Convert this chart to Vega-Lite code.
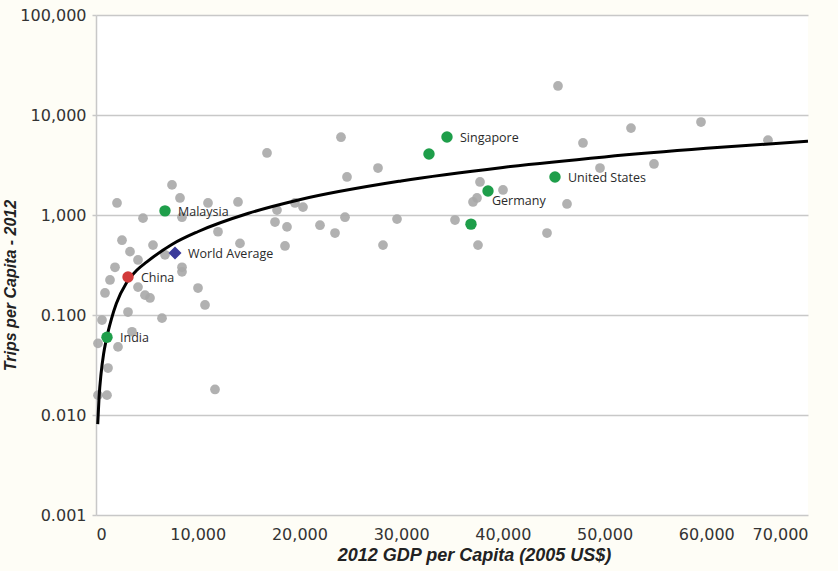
{
  "$schema": "https://vega.github.io/schema/vega-lite/v6.json",
  "autosize": "none",
  "width": 712,
  "height": 500,
  "padding": {"left": 96, "top": 15, "right": 30, "bottom": 56},
  "background": "#fefdf6",
  "config": {
    "view": {"stroke": null, "fill": "#ffffff"}
  },
  "datasets": {
    "countries": [
      {"gdp": 2065, "trips": 1.32, "group": "other"},
      {"gdp": 7472, "trips": 2.0, "group": "other"},
      {"gdp": 8258, "trips": 1.48, "group": "other"},
      {"gdp": 4621, "trips": 0.93, "group": "other"},
      {"gdp": 8455, "trips": 0.95, "group": "other"},
      {"gdp": 11994, "trips": 0.68, "group": "other"},
      {"gdp": 13960, "trips": 1.35, "group": "other"},
      {"gdp": 2556, "trips": 0.56, "group": "other"},
      {"gdp": 5604, "trips": 0.5, "group": "other"},
      {"gdp": 3343, "trips": 0.43, "group": "other"},
      {"gdp": 4129, "trips": 0.355, "group": "other"},
      {"gdp": 6783, "trips": 0.4, "group": "other"},
      {"gdp": 1868, "trips": 0.3, "group": "other"},
      {"gdp": 8455, "trips": 0.3, "group": "other"},
      {"gdp": 1376, "trips": 0.224, "group": "other"},
      {"gdp": 10028, "trips": 0.186, "group": "other"},
      {"gdp": 885, "trips": 0.166, "group": "other"},
      {"gdp": 4129, "trips": 0.19, "group": "other"},
      {"gdp": 4817, "trips": 0.158, "group": "other"},
      {"gdp": 5309, "trips": 0.148, "group": "other"},
      {"gdp": 10716, "trips": 0.126, "group": "other"},
      {"gdp": 3146, "trips": 0.107, "group": "other"},
      {"gdp": 6489, "trips": 0.093, "group": "other"},
      {"gdp": 590, "trips": 0.089, "group": "other"},
      {"gdp": 3539, "trips": 0.068, "group": "other"},
      {"gdp": 197, "trips": 0.052, "group": "other"},
      {"gdp": 2163, "trips": 0.048, "group": "other"},
      {"gdp": 1180, "trips": 0.0295, "group": "other"},
      {"gdp": 197, "trips": 0.0158, "group": "other"},
      {"gdp": 1081, "trips": 0.0158, "group": "other"},
      {"gdp": 11699, "trips": 0.018, "group": "other"},
      {"gdp": 16811, "trips": 4.17, "group": "other"},
      {"gdp": 24086, "trips": 6.0, "group": "other"},
      {"gdp": 24676, "trips": 2.4, "group": "other"},
      {"gdp": 27724, "trips": 2.95, "group": "other"},
      {"gdp": 11011, "trips": 1.32, "group": "other"},
      {"gdp": 17794, "trips": 1.12, "group": "other"},
      {"gdp": 17598, "trips": 0.85, "group": "other"},
      {"gdp": 18777, "trips": 0.76, "group": "other"},
      {"gdp": 19564, "trips": 1.32, "group": "other"},
      {"gdp": 20351, "trips": 1.2, "group": "other"},
      {"gdp": 22022, "trips": 0.79, "group": "other"},
      {"gdp": 23497, "trips": 0.66, "group": "other"},
      {"gdp": 24480, "trips": 0.95, "group": "other"},
      {"gdp": 14157, "trips": 0.52, "group": "other"},
      {"gdp": 18581, "trips": 0.49, "group": "other"},
      {"gdp": 29593, "trips": 0.91, "group": "other"},
      {"gdp": 35295, "trips": 0.89, "group": "other"},
      {"gdp": 28216, "trips": 0.5, "group": "other"},
      {"gdp": 37556, "trips": 0.5, "group": "other"},
      {"gdp": 44340, "trips": 0.66, "group": "other"},
      {"gdp": 37753, "trips": 2.14, "group": "other"},
      {"gdp": 40014, "trips": 1.78, "group": "other"},
      {"gdp": 37458, "trips": 1.48, "group": "other"},
      {"gdp": 37065, "trips": 1.35, "group": "other"},
      {"gdp": 46306, "trips": 1.29, "group": "other"},
      {"gdp": 45420, "trips": 19.5, "group": "other"},
      {"gdp": 52597, "trips": 7.4, "group": "other"},
      {"gdp": 59479, "trips": 8.5, "group": "other"},
      {"gdp": 47877, "trips": 5.25, "group": "other"},
      {"gdp": 49549, "trips": 2.95, "group": "other"},
      {"gdp": 54858, "trips": 3.24, "group": "other"},
      {"gdp": 66066, "trips": 5.6, "group": "other"},
      {"gdp": 8455, "trips": 0.27, "group": "other"},
      {"gdp": 6783, "trips": 1.1, "group": "highlight", "name": "Malaysia"},
      {"gdp": 1081, "trips": 0.06, "group": "highlight", "name": "India"},
      {"gdp": 34507, "trips": 6.03, "group": "highlight", "name": "Singapore"},
      {"gdp": 32737, "trips": 4.07, "group": "highlight"},
      {"gdp": 38539, "trips": 1.74, "group": "highlight", "name": "Germany"},
      {"gdp": 36866, "trips": 0.81, "group": "highlight"},
      {"gdp": 45125, "trips": 2.4, "group": "highlight", "name": "United States"},
      {"gdp": 3146, "trips": 0.24, "group": "china", "name": "China"},
      {"gdp": 7767, "trips": 0.417, "group": "world", "name": "World Average"}
    ],
    "trend": [
      {"gdp": 170, "trips": 0.0081},
      {"gdp": 300, "trips": 0.015},
      {"gdp": 500, "trips": 0.026},
      {"gdp": 750, "trips": 0.041},
      {"gdp": 1000, "trips": 0.056},
      {"gdp": 1500, "trips": 0.09},
      {"gdp": 2000, "trips": 0.13},
      {"gdp": 3000, "trips": 0.21},
      {"gdp": 4000, "trips": 0.28},
      {"gdp": 5000, "trips": 0.34},
      {"gdp": 7500, "trips": 0.51},
      {"gdp": 10000, "trips": 0.68},
      {"gdp": 15000, "trips": 1.04},
      {"gdp": 20000, "trips": 1.42},
      {"gdp": 30000, "trips": 2.19},
      {"gdp": 40000, "trips": 2.99},
      {"gdp": 50000, "trips": 3.81},
      {"gdp": 60000, "trips": 4.64},
      {"gdp": 70000, "trips": 5.48}
    ]
  },
  "encoding": {
    "x": {
      "field": "gdp", "type": "quantitative",
      "scale": {"domain": [0, 70000], "nice": false, "zero": true},
      "axis": {
        "title": "2012 GDP per Capita (2005 US$)",
        "values": [0, 10000, 20000, 30000, 40000, 50000, 60000, 70000],
        "format": ",d",
        "grid": false, "domain": false, "ticks": false,
        "labelFont": "DejaVu Sans", "labelFontSize": 16, "labelColor": "#333333",
        "labelPadding": 11,
        "titleFont": "Liberation Sans", "titleFontSize": 18, "titleFontWeight": "bold", "titleFontStyle": "italic", "titleColor": "#222222",
        "titlePadding": 4, "titleX": 378, "titleAlign": "center"
      }
    },
    "y": {
      "field": "trips", "type": "quantitative",
      "scale": {"type": "log", "domain": [0.001, 100], "nice": false},
      "axis": {
        "title": "Trips per Capita - 2012",
        "values": [0.001, 0.01, 0.1, 1, 10, 100],
        "labelExpr": "datum.value < 0.005 ? '0.001' : datum.value < 0.05 ? '0.010' : datum.value < 0.5 ? '0.100' : datum.value < 5 ? '1,000' : datum.value < 50 ? '10,000' : '100,000'",
        "labelFont": "DejaVu Sans", "labelFontSize": 16, "labelColor": "#333333",
        "grid": true, "gridColor": "#c8c8c8", "gridWidth": 1.5,
        "domain": true, "domainColor": "#c8c8c8", "domainWidth": 1.5,
        "ticks": true, "tickColor": "#c8c8c8", "tickSize": 4, "tickWidth": 1.5,
        "labelPadding": 6,
        "titleFont": "Liberation Sans Narrow, Liberation Sans", "titleFontSize": 16, "titleFontWeight": "bold", "titleFontStyle": "italic", "titleColor": "#222222",
        "titleX": -78, "titleY": 270
      }
    }
  },
  "layer": [
    {
      "data": {"name": "countries"},
      "transform": [{"filter": "datum.group === 'other'"}],
      "mark": {"type": "circle", "size": 95, "color": "#a8a8a8", "opacity": 0.9}
    },
    {
      "data": {"name": "trend"},
      "mark": {"type": "line", "color": "#000000", "strokeWidth": 3, "interpolate": "monotone"}
    },
    {
      "data": {"name": "countries"},
      "transform": [{"filter": "datum.group === 'highlight'"}],
      "mark": {"type": "circle", "size": 130, "color": "#1e9e4a", "opacity": 1}
    },
    {
      "data": {"name": "countries"},
      "transform": [{"filter": "datum.group === 'china'"}],
      "mark": {"type": "circle", "size": 130, "color": "#d23a3a", "opacity": 1}
    },
    {
      "data": {"name": "countries"},
      "transform": [{"filter": "datum.group === 'world'"}],
      "mark": {"type": "point", "shape": "diamond", "size": 170, "filled": true, "color": "#3a3a9a", "opacity": 1}
    },
    {
      "data": {"name": "countries"},
      "transform": [{"filter": "datum.name && datum.name !== 'Germany'"}],
      "mark": {"type": "text", "align": "left", "baseline": "middle", "dx": 13, "dy": 1, "font": "Open Sans", "fontSize": 12.5, "color": "#2a2a2a"},
      "encoding": {"text": {"field": "name"}}
    },
    {
      "data": {"name": "countries"},
      "transform": [{"filter": "datum.name === 'Germany'"}],
      "mark": {"type": "text", "align": "left", "baseline": "middle", "dx": 4, "dy": 10, "font": "Open Sans", "fontSize": 12.5, "color": "#2a2a2a"},
      "encoding": {"text": {"field": "name"}}
    }
  ]
}
